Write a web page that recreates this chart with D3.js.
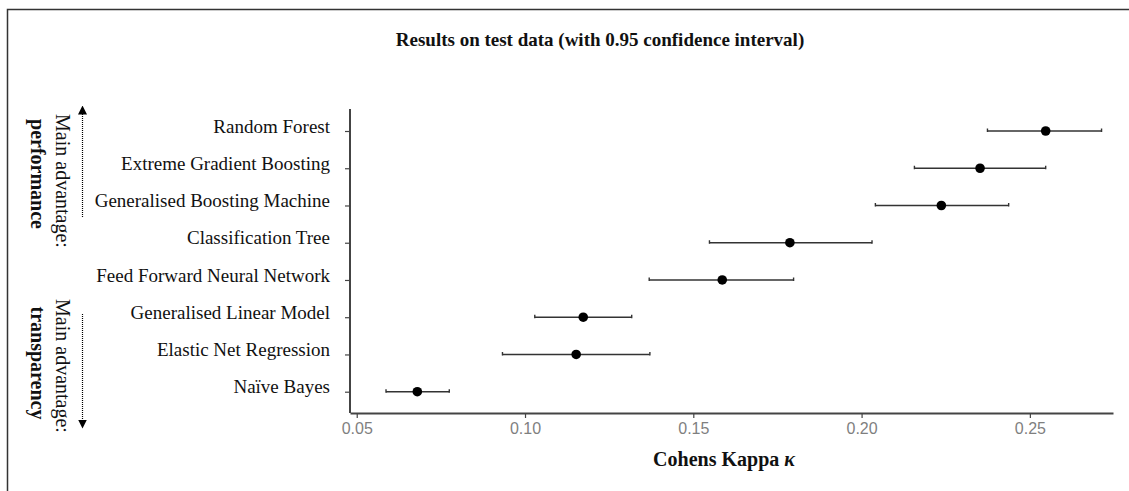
<!DOCTYPE html>
<html>
<head>
<meta charset="utf-8">
<script src="https://cdn.jsdelivr.net/npm/d3@7"></script>
<style>
  body { margin: 0; background: #fff; }
  svg { display: block; }
</style>
</head>
<body>
<svg id="chart" width="1129" height="491"></svg>
<script>
// models, top to bottom
const models = [
  'Random Forest',
  'Extreme Gradient Boosting',
  'Generalised Boosting Machine',
  'Classification Tree',
  'Feed Forward Neural Network',
  'Generalised Linear Model',
  'Elastic Net Regression',
  'Naïve Bayes'
];
const kappa = [0.2547, 0.2352, 0.2237, 0.1787, 0.1586, 0.1173, 0.1152, 0.0680];
const ciLow = [0.2374, 0.2157, 0.2041, 0.1548, 0.1369, 0.1029, 0.0933, 0.0587];
const ciHigh = [0.2713, 0.2547, 0.2437, 0.2031, 0.1798, 0.1317, 0.1371, 0.0775];
const xTicks = [0.05, 0.10, 0.15, 0.20, 0.25];

const svg = d3.select('#chart');
const serif = '"Liberation Serif", "Times New Roman", serif';
const sans = '"Liberation Sans", Arial, sans-serif';

// frame round the figure
svg.append('path')
    .attr('d', 'M7.5,491 V9.5 H1129')
    .attr('fill', 'none')
    .attr('stroke', '#333')
    .attr('stroke-width', 1.5);

const plot = { left: 350, right: 1113, top: 109, bottom: 413 };

const x = d3.scaleLinear()
    .domain([0.048, 0.2747])
    .range([plot.left, plot.right]);

const y = d3.scalePoint()
    .domain(models)
    .range([131, 391.7]);

// x axis
const xAxis = svg.append('g')
    .attr('transform', 'translate(0,' + plot.bottom + ')')
    .call(d3.axisBottom(x).tickValues(xTicks).tickFormat(d3.format('.2f')).tickSize(5).tickPadding(5).tickSizeOuter(0));
xAxis.select('.domain').attr('stroke', '#444').attr('stroke-width', 2);
xAxis.selectAll('.tick line').attr('stroke', '#444').attr('stroke-width', 1.2);
xAxis.selectAll('.tick text')
    .attr('fill', '#7f7f7f')
    .attr('font-family', sans)
    .attr('font-size', 16);

// y axis
const yAxis = svg.append('g')
    .attr('transform', 'translate(' + plot.left + ',0)')
    .call(d3.axisLeft(y).tickSize(5).tickSizeOuter(0).tickFormat(''));
yAxis.select('.domain')
    .attr('d', 'M0,' + plot.top + 'V' + plot.bottom)
    .attr('stroke', '#444').attr('stroke-width', 2);
yAxis.selectAll('.tick line').attr('stroke', '#444').attr('stroke-width', 1.2);

// category labels, set slightly above the ticks
svg.append('g').selectAll('text')
    .data(models)
    .enter()
        .append('text')
            .attr('x', 330)
            .attr('y', function(d) { return y(d) - 5; })
            .attr('dy', '0.35em')
            .attr('text-anchor', 'end')
            .attr('font-family', serif)
            .attr('font-size', 19)
            .attr('fill', '#111')
            .text(function(d) { return d; });

// error bars
const bars = svg.append('g').selectAll('g')
    .data(models)
    .enter()
        .append('g');

bars.append('line')
    .attr('x1', function(d, i) { return x(ciLow[i]); })
    .attr('x2', function(d, i) { return x(ciHigh[i]); })
    .attr('y1', function(d) { return y(d); })
    .attr('y2', function(d) { return y(d); })
    .attr('stroke', '#333')
    .attr('stroke-width', 1.6);

bars.append('path')
    .attr('d', function(d, i) {
        let yy = y(d);
        return 'M' + x(ciLow[i]) + ',' + (yy - 2.5) + 'V' + (yy + 1) +
               'M' + x(ciHigh[i]) + ',' + (yy - 2.5) + 'V' + (yy + 1);
    })
    .attr('stroke', '#333')
    .attr('stroke-width', 1.4);

bars.append('circle')
    .attr('cx', function(d, i) { return x(kappa[i]); })
    .attr('cy', function(d) { return y(d); })
    .attr('r', 4.8)
    .attr('fill', '#000');

// titles
svg.append('text')
    .attr('x', 600)
    .attr('y', 46)
    .attr('text-anchor', 'middle')
    .attr('font-family', serif)
    .attr('font-weight', 'bold')
    .attr('font-size', 19)
    .attr('fill', '#111')
    .text('Results on test data (with 0.95 confidence interval)');

const xTitle = svg.append('text')
    .attr('x', 724)
    .attr('y', 466)
    .attr('text-anchor', 'middle')
    .attr('font-family', serif)
    .attr('font-weight', 'bold')
    .attr('font-size', 20)
    .attr('fill', '#111');
xTitle.append('tspan').text('Cohens Kappa ');
xTitle.append('tspan').attr('font-style', 'italic').text('κ');

// left annotations
svg.append('defs').append('marker')
    .attr('id', 'head')
    .attr('viewBox', '0 0 10 10')
    .attr('refX', 5).attr('refY', 5)
    .attr('markerWidth', 9).attr('markerHeight', 9)
    .attr('markerUnits', 'userSpaceOnUse')
    .attr('orient', 'auto')
    .append('path')
        .attr('d', 'M0,0 L10,5 L0,10 Z')
        .attr('fill', '#000');

function note(cx1, cy1, cx2, cy2, word) {
    svg.append('text')
        .attr('transform', 'translate(' + cx1 + ',' + cy1 + ') rotate(90)')
        .attr('text-anchor', 'middle')
        .attr('dy', '0.35em')
        .attr('font-family', serif)
        .attr('font-size', 20)
        .attr('fill', '#111')
        .text('Main advantage:');
    svg.append('text')
        .attr('transform', 'translate(' + cx2 + ',' + cy2 + ') rotate(90)')
        .attr('text-anchor', 'middle')
        .attr('dy', '0.35em')
        .attr('font-family', serif)
        .attr('font-weight', 'bold')
        .attr('font-size', 20)
        .attr('fill', '#111')
        .text(word);
}
note(63, 181, 38, 174, 'performance');
note(63, 366, 38, 363, 'transparency');

svg.append('line')
    .attr('x1', 82.5).attr('y1', 217).attr('x2', 82.5).attr('y2', 110)
    .attr('stroke', '#000').attr('stroke-width', 1.2)
    .attr('stroke-dasharray', '1,1')
    .attr('marker-end', 'url(#head)');
svg.append('line')
    .attr('x1', 82.5).attr('y1', 314).attr('x2', 82.5).attr('y2', 424)
    .attr('stroke', '#000').attr('stroke-width', 1.2)
    .attr('stroke-dasharray', '1,1')
    .attr('marker-end', 'url(#head)');
</script>
</body>
</html>
